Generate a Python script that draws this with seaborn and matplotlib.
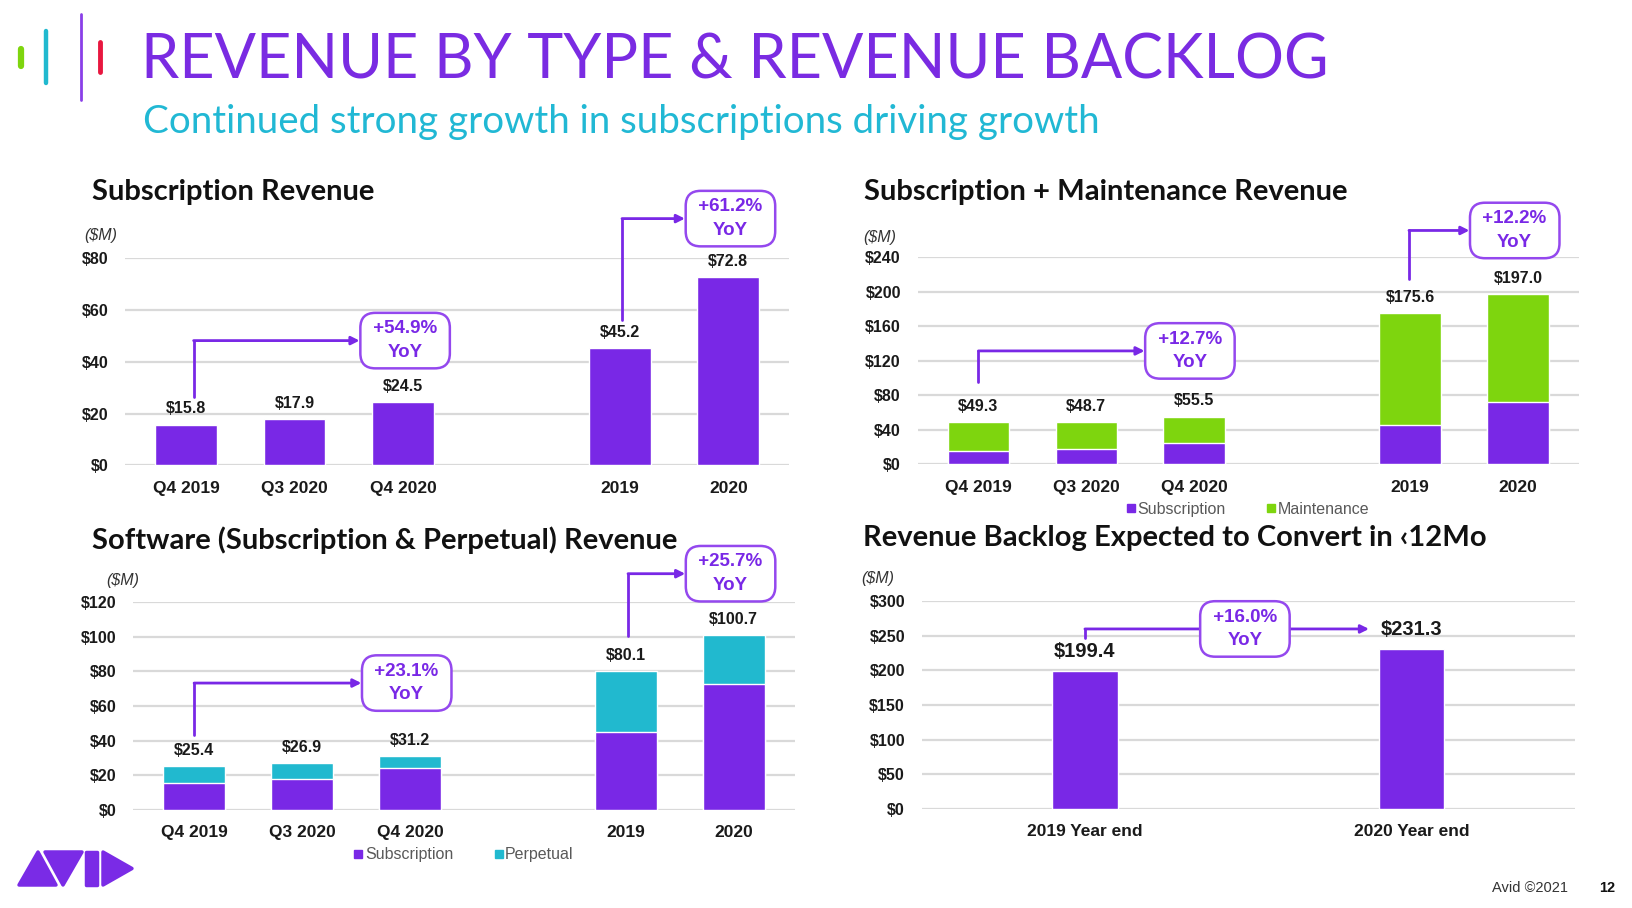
import matplotlib
matplotlib.use("Agg")
import matplotlib.pyplot as plt
import seaborn as sns
import pandas as pd
from matplotlib.lines import Line2D
from matplotlib.patches import Polygon

# ---- data ----
periods = ["Q4 2019", "Q3 2020", "Q4 2020", "2019", "2020"]
slot_order = ["Q4 2019", "Q3 2020", "Q4 2020", " ", "2019", "2020"]

subscription = [15.8, 17.9, 24.5, 45.2, 72.8]
sub_maint_total = [49.3, 48.7, 55.5, 175.6, 197.0]
software_total = [25.4, 26.9, 31.2, 80.1, 100.7]

backlog_labels = ["2019 Year end", "2020 Year end"]
backlog = [199.4, 231.3]

yoy_sub = ["+54.9%", "+61.2%"]
yoy_sub_maint = ["+12.7%", "+12.2%"]
yoy_software = ["+23.1%", "+25.7%"]
yoy_backlog = "+16.0%"

PURPLE = "#7928E6"
GREEN = "#7ED50E"
CYAN = "#21B9CF"
BOX_EDGE = "#9448EE"
GRID = "#D9D9D9"
HEAD_FONT = ["Lato", "DejaVu Sans"]
NUM_FONT = ["Liberation Sans Narrow", "Liberation Sans", "DejaVu Sans"]

sns.set_theme(style="white")
plt.rcParams["font.family"] = NUM_FONT

fig = plt.figure(figsize=(16.33, 9.08), dpi=100)
fig.patch.set_facecolor("white")

ax1 = fig.add_axes([0.0765, 0.4874, 0.4069, 0.2282])
ax2 = fig.add_axes([0.5619, 0.4885, 0.4049, 0.2282])
ax3 = fig.add_axes([0.0816, 0.1078, 0.4050, 0.2294])
ax4 = fig.add_axes([0.5644, 0.1089, 0.3999, 0.2294])


def style_axis(ax, ymax, step, mlabel_x, mlabel_y):
    ax.set_ylim(0, ymax)
    ax.set_yticks(range(0, ymax + 1, step))
    ax.set_yticklabels([f"${v}" for v in range(0, ymax + 1, step)])
    ax.yaxis.grid(True, color=GRID, lw=1.6)
    ax.xaxis.grid(False)
    ax.set_axisbelow(True)
    for s in ax.spines.values():
        s.set_visible(False)
    ax.tick_params(axis="y", length=0, pad=12, labelsize=11.5)
    ax.tick_params(axis="x", length=0, pad=11, labelsize=12.5)
    for t in ax.get_xticklabels() + ax.get_yticklabels():
        t.set_fontweight("bold")
        t.set_color("#1a1a1a")
    ax.set_xlabel("")
    ax.set_ylabel("")
    ax.text(mlabel_x, mlabel_y, "($M)", transform=ax.transAxes, ha="center",
            va="center", fontsize=11.5, style="italic", color="#333333")


def value_labels(ax, xs, vals, size=11.5, off=6):
    for x, v in zip(xs, vals):
        ax.annotate(f"${v:.1f}", (x, v), xytext=(0, off), textcoords="offset points",
                    ha="center", va="bottom", fontsize=size, fontweight="bold",
                    color="#1a1a1a")


def yoy(ax, x0, y0, y1, xbox, x_end, pct):
    # elbow connector from first bar up and across to the callout box
    ax.plot([x0, x0], [y0, y1], color=PURPLE, lw=2, clip_on=False, zorder=4)
    ax.annotate("", xy=(x_end, y1), xytext=(x0, y1),
                arrowprops=dict(arrowstyle="-|>", color=PURPLE, lw=2,
                                shrinkA=0, shrinkB=0, mutation_scale=12),
                annotation_clip=False, zorder=4)
    ax.text(xbox, y1, f" {pct} \nYoY", ha="center", va="center",
            fontsize=13.5, fontweight="bold", color=PURPLE, linespacing=1.5,
            family=NUM_FONT, zorder=6,
            bbox=dict(boxstyle="round,pad=0.4,rounding_size=0.8", fc="white",
                      ec=BOX_EDGE, lw=1.8))


def square_legend(ax, items):
    handles = [Line2D([], [], marker="s", ls="", color=c, markersize=6, label=l)
               for l, c in items]
    leg = ax.legend(handles=handles, loc="upper center", bbox_to_anchor=(0.5, -0.11),
                    ncol=2, frameon=False, handlelength=0.5, handletextpad=0.15,
                    columnspacing=2.6, fontsize=11.5)
    for t in leg.get_texts():
        t.set_color("#595959")


pos = [slot_order.index(p) for p in periods]

# ---- Subscription Revenue ----
df1 = pd.DataFrame({"period": periods, "value": subscription})
sns.barplot(data=df1, x="period", y="value", order=slot_order, color=PURPLE,
            saturation=1, width=0.57, ax=ax1)
style_axis(ax1, 80, 20, -0.036, 1.11)
value_labels(ax1, pos, subscription)
yoy(ax1, 0.07, 26.5, 48.2, 2.02, 1.6, yoy_sub[0])
yoy(ax1, 4.02, 56.3, 95.3, 5.02, 4.6, yoy_sub[1])

# ---- Subscription + Maintenance ----
df2 = pd.DataFrame({"period": periods, "total": sub_maint_total, "sub": subscription})
sns.barplot(data=df2, x="period", y="total", order=slot_order, color=GREEN,
            saturation=1, width=0.57, ax=ax2)
sns.barplot(data=df2, x="period", y="sub", order=slot_order, color=PURPLE,
            saturation=1, width=0.57, ax=ax2)
style_axis(ax2, 240, 40, -0.057, 1.095)
value_labels(ax2, pos, sub_maint_total)
yoy(ax2, 0.0, 95.3, 131.5, 1.96, 1.54, yoy_sub_maint[0])
yoy(ax2, 3.99, 214.7, 271.0, 4.97, 4.55, yoy_sub_maint[1])
square_legend(ax2, [("Subscription", PURPLE), ("Maintenance", GREEN)])

# ---- Software (Subscription & Perpetual) ----
df3 = pd.DataFrame({"period": periods, "total": software_total, "sub": subscription})
sns.barplot(data=df3, x="period", y="total", order=slot_order, color=CYAN,
            saturation=1, width=0.57, ax=ax3)
sns.barplot(data=df3, x="period", y="sub", order=slot_order, color=PURPLE,
            saturation=1, width=0.57, ax=ax3)
style_axis(ax3, 120, 20, -0.016, 1.10)
value_labels(ax3, pos, software_total)
yoy(ax3, 0.0, 43.2, 73.2, 1.97, 1.55, yoy_software[0])
yoy(ax3, 4.02, 100.2, 136.2, 4.97, 4.55, yoy_software[1])
square_legend(ax3, [("Subscription", PURPLE), ("Perpetual", CYAN)])

# ---- Revenue Backlog ----
df4 = pd.DataFrame({"period": backlog_labels, "value": backlog})
sns.barplot(data=df4, x="period", y="value", color=PURPLE, saturation=1,
            width=0.2, ax=ax4)
ax4.set_xlim(-0.5, 1.5)
style_axis(ax4, 300, 50, -0.067, 1.105)
value_labels(ax4, range(len(backlog)), backlog, size=14.5, off=7)
yoy(ax4, 0.0, 246, 259.5, 0.49, 0.87, yoy_backlog)

# ---- headings ----
fig.text(0.0861, 0.933, "REVENUE BY TYPE & REVENUE BACKLOG", color="#7A2BE2",
         fontsize=44, family=HEAD_FONT, va="center", ha="left")
fig.text(0.0874, 0.866, "Continued strong growth in subscriptions driving growth",
         color="#21B8D4", fontsize=27.7, family=HEAD_FONT, va="center", ha="left")

panel_titles = [(0.0561, 0.789, "Subscription Revenue"),
                (0.5293, 0.789, "Subscription + Maintenance Revenue"),
                (0.0561, 0.4048, "Software (Subscription & Perpetual) Revenue"),
                (0.5287, 0.407, "Revenue Backlog Expected to Convert in \u203912Mo")]
for x, y, t in panel_titles:
    fig.text(x, y, t, fontsize=21, fontweight="bold", family=HEAD_FONT,
             color="#111111", va="center", ha="left")

# ---- decorations: colour bars top-left ----
W, H = 1633, 908
for x, y_top, y_bot, c, lw in [(21, 49, 66, GREEN, 4.5), (46, 31, 83, CYAN, 3.2),
                               (81, 14, 100, "#8A3FE8", 2), (100, 42, 72, "#E8173F", 3.5)]:
    fig.add_artist(Line2D([x / W, x / W], [1 - y_top / H, 1 - y_bot / H],
                          color=c, lw=lw, transform=fig.transFigure))

# ---- Avid logo bottom-left ----
logo_shapes = [
    [(19, 885), (38, 852), (56, 885)],
    [(45, 852), (82, 852), (63, 885)],
    [(86, 852), (97, 852), (97, 885), (86, 885)],
    [(103, 852), (103, 885), (132, 868.5)],
]
for pts in logo_shapes:
    fig.add_artist(Polygon([(px / W, 1 - py / H) for px, py in pts], closed=True,
                           fc="#7A2BE6", ec="#7A2BE6", lw=2.5, joinstyle="round",
                           transform=fig.transFigure))

fig.text(1530 / W, 1 - 888 / H, "Avid \u00a92021", fontsize=10.5, color="#333333",
         ha="center", va="center", family=["Liberation Sans", "DejaVu Sans"])
fig.text(1607 / W, 1 - 888 / H, "12", fontsize=10.5, color="#111111", fontweight="bold",
         ha="center", va="center", family=["Liberation Sans", "DejaVu Sans"])

fig.savefig("out.png", dpi=100, facecolor="white")
